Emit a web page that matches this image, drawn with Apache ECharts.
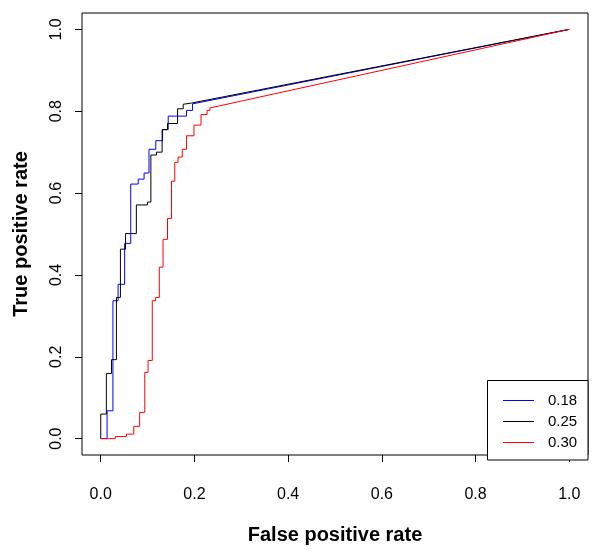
<!DOCTYPE html>
<html>
<head>
<meta charset="utf-8">
<script src="https://cdn.jsdelivr.net/npm/echarts@6/dist/echarts.min.js"></script>
<style>html,body{margin:0;padding:0;background:#fff;}#c{width:600px;height:550px;}</style>
</head>
<body>
<div id="c"></div>
<script>
var seriesNames = ['0.18', '0.25', '0.30'];
var seriesColors = ['#0000FF', '#000000', '#FF0000'];

var fpr018 = [0, 0.0135, 0.0135, 0.026, 0.026, 0.037, 0.037, 0.051, 0.051, 0.064, 0.064, 0.080, 0.080, 0.0925, 0.0925, 0.103, 0.103, 0.1175, 0.1175, 0.132, 0.132, 0.144, 0.144, 0.183, 0.183, 0.196, 0.196, 1];
var tpr018 = [0, 0, 0.068, 0.068, 0.337, 0.337, 0.377, 0.377, 0.477, 0.477, 0.622, 0.622, 0.634, 0.634, 0.649, 0.649, 0.707, 0.707, 0.728, 0.728, 0.755, 0.755, 0.788, 0.788, 0.802, 0.802, 0.818, 1];

var fpr025 = [0, 0, 0.012, 0.012, 0.023, 0.023, 0.0335, 0.0335, 0.042, 0.042, 0.053, 0.053, 0.076, 0.076, 0.0998, 0.0998, 0.107, 0.107, 0.119, 0.119, 0.131, 0.131, 0.1425, 0.1425, 0.164, 0.164, 0.176, 0.176, 0.194, 1];
var tpr025 = [0, 0.06, 0.06, 0.159, 0.159, 0.193, 0.193, 0.345, 0.345, 0.463, 0.463, 0.501, 0.501, 0.571, 0.571, 0.578, 0.578, 0.693, 0.693, 0.70, 0.70, 0.755, 0.755, 0.770, 0.770, 0.806, 0.806, 0.817, 0.82, 1];

var fpr030 = [0, 0.031, 0.031, 0.055, 0.055, 0.0705, 0.0705, 0.083, 0.083, 0.094, 0.094, 0.101, 0.101, 0.110, 0.110, 0.117, 0.117, 0.125, 0.125, 0.133, 0.133, 0.1425, 0.1425, 0.151, 0.151, 0.158, 0.158, 0.165, 0.165, 0.174, 0.174, 0.183, 0.183, 0.199, 0.199, 0.214, 0.214, 0.227, 0.227, 0.233, 0.233, 1];
var tpr030 = [0, 0, 0.005, 0.005, 0.011, 0.011, 0.030, 0.030, 0.064, 0.064, 0.162, 0.162, 0.191, 0.191, 0.337, 0.337, 0.345, 0.345, 0.419, 0.419, 0.487, 0.487, 0.538, 0.538, 0.629, 0.629, 0.675, 0.675, 0.688, 0.688, 0.707, 0.707, 0.740, 0.740, 0.766, 0.766, 0.792, 0.792, 0.802, 0.802, 0.808, 1];

var tickValues = [0, 0.2, 0.4, 0.6, 0.8, 1.0];
var tickLabels = ['0.0', '0.2', '0.4', '0.6', '0.8', '1.0'];

function pairs(xs, ys) { return xs.map(function (x, i) { return [x, ys[i]]; }); }
function fmt(v) {
  for (var i = 0; i < tickValues.length; i++) if (Math.abs(tickValues[i] - v) < 1e-9) return tickLabels[i];
  return '';
}
var FONT = '"Liberation Sans", Arial, sans-serif';
var allX = [fpr018, fpr025, fpr030];
var allY = [tpr018, tpr025, tpr030];

var chart = echarts.init(document.getElementById('c'), null, { renderer: 'canvas' });
function axis(extra) {
  return Object.assign({
    type: 'value', min: -0.04, max: 1.04,
    axisLine: { show: false, onZero: false },
    splitLine: { show: false },
    nameLocation: 'middle',
    nameTextStyle: { color: '#000', fontSize: 20, fontWeight: 'bold', fontFamily: FONT }
  }, extra);
}
var tickStyle = { show: true, customValues: tickValues, length: 7, inside: false, lineStyle: { color: '#000', width: 1 } };
var option = {
  animation: false,
  backgroundColor: '#fff',
  grid: { left: 82, right: 12, top: 13, bottom: 90, show: true, borderColor: '#000', borderWidth: 1, backgroundColor: 'transparent' },
  xAxis: axis({
    name: 'False positive rate', nameGap: 70,
    axisTick: tickStyle,
    axisLabel: { customValues: tickValues, formatter: fmt, color: '#000', fontSize: 16, fontFamily: FONT, margin: 32 }
  }),
  yAxis: axis({
    name: 'True positive rate', nameGap: 51,
    axisTick: tickStyle,
    axisLabel: { customValues: tickValues, formatter: fmt, color: '#000', fontSize: 16, fontFamily: FONT, margin: 17, rotate: 90 }
  }),
  graphic: [{
    type: 'rect', z: 3,
    shape: { x: 487.5, y: 380.5, width: 100.5, height: 79.5 },
    style: { fill: '#fff', stroke: '#000', lineWidth: 1 }
  }],
  legend: {
    z: 10,
    orient: 'vertical', left: 503, top: 393, padding: 0,
    icon: 'rect', itemWidth: 31, itemHeight: 1, itemGap: 6,
    data: seriesNames,
    textStyle: { color: '#000', fontSize: 15, fontFamily: FONT, lineHeight: 14, padding: [0, 0, 0, 9] }
  },
  series: seriesNames.map(function (n, i) {
    return {
      name: n, type: 'line', showSymbol: false, symbol: 'none',
      color: seriesColors[i],
      itemStyle: { color: seriesColors[i] },
      lineStyle: { color: seriesColors[i], width: 1 },
      data: pairs(allX[i], allY[i]),
      z: 2 + i
    };
  })
};
chart.setOption(option);
</script>
</body>
</html>
